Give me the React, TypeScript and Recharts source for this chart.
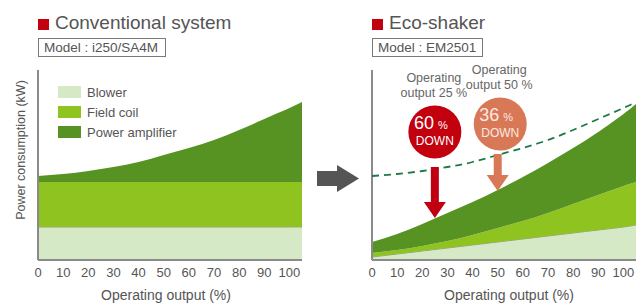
import React from "react";
import {
  AreaChart,
  ComposedChart,
  Area,
  Line,
  XAxis,
  YAxis,
  Legend,
  ReferenceLine,
  ReferenceDot,
} from "recharts";

// operating output (%) sample points, plot runs a little past 100
const outputs = [0, 10, 20, 30, 40, 50, 60, 70, 80, 90, 100, 105];
const xTicks = [0, 10, 20, 30, 40, 50, 60, 70, 80, 90, 100];

// conventional system (i250/SA4M), stacked amounts
const convBlower = [33, 33, 33, 33, 33, 33, 33, 33, 33, 33, 33, 33];
const convFieldCoil = [45, 45, 45, 45, 45, 45, 45, 45, 45, 45, 45, 45];
const convAmp = [6, 8, 11, 15, 20, 27, 34, 42, 52, 63, 74, 80];

// eco-shaker (EM2501), stacked amounts
const ecoBlower = [3, 6, 9, 12, 15, 18, 21, 24, 27, 30, 33, 35];
const ecoFieldCoil = [4, 4, 5, 7, 10, 14, 18, 23, 29, 35, 41, 43];
const ecoAmp = [11, 16, 22, 28, 33, 38, 44, 50, 56, 63, 72, 78];

// reduction callouts on the eco-shaker chart
const callouts = [
  { x: 25, from: 93, to: 42, circleX: 25, circleY: 128, pct: "60", caption: "output 25 %", color: "#c2000e", arrow: "#c00010", text: "#ffffff" },
  { x: 50, from: 106, to: 69, circleX: 51, circleY: 136, pct: "36", caption: "output 50 %", color: "#d97856", arrow: "#d97856", text: "#fbe9e1" },
];

const series = [
  { key: "blower", name: "Blower", fill: "#d6e9c6" },
  { key: "fieldCoil", name: "Field coil", fill: "#8fc31f" },
  { key: "amp", name: "Power amplifier", fill: "#569322" },
];

const convData = outputs.map((x, i) => ({
  x,
  blower: convBlower[i],
  fieldCoil: convFieldCoil[i],
  amp: convAmp[i],
}));

const ecoData = outputs.map((x, i) => ({
  x,
  blower: ecoBlower[i],
  fieldCoil: ecoFieldCoil[i],
  amp: ecoAmp[i],
  conv: convBlower[i] + convFieldCoil[i] + convAmp[i],
}));

const font = "'Liberation Sans', Arial, sans-serif";
const gray = "#555";
const axisGray = "#8a8a8a";

function LegendBox() {
  return (
    <div style={{ fontFamily: font, fontSize: 13, color: gray }}>
      {series.map((s) => (
        <div key={s.key} style={{ display: "flex", alignItems: "center", height: 20 }}>
          <span style={{ width: 23, height: 12, background: s.fill, marginRight: 6 }} />
          <span>{s.name}</span>
        </div>
      ))}
    </div>
  );
}

function ArrowHead(props: any) {
  const { cx, cy, fill } = props;
  return <polygon points={`${cx},${cy} ${cx - 11},${cy - 16} ${cx + 11},${cy - 16}`} fill={fill} />;
}

function Bubble(props: any) {
  const { cx, cy, c } = props;
  return (
    <g fontFamily={font}>
      <text x={cx - 1} y={cy - 50} textAnchor="middle" fontSize={12.5} fill="#666">Operating</text>
      <text x={cx - 1} y={cy - 35} textAnchor="middle" fontSize={12.5} fill="#666">{c.caption}</text>
      <circle cx={cx} cy={cy} r={26.5} fill={c.color} />
      <text x={cx - 4} y={cy - 3} textAnchor="middle" fontSize={18} fill={c.text}>
        {c.pct}
        <tspan fontSize={11} dx={4}>%</tspan>
      </text>
      <text x={cx} y={cy + 13} textAnchor="middle" fontSize={12} fill={c.text}>DOWN</text>
    </g>
  );
}

function YLabel() {
  return (
    <text
      x={22}
      y={150}
      transform="rotate(-90, 22, 150)"
      textAnchor="middle"
      dominantBaseline="middle"
      fontSize={12.5}
      fill={gray}
      fontFamily={font}
    >
      Power consumption (kW)
    </text>
  );
}

function Title({ left, text, model, boxWidth }: { left: number; text: string; model: string; boxWidth: number }) {
  return (
    <>
      <div style={{ position: "absolute", left, top: 19, width: 11, height: 11, background: "#c2000e" }} />
      <div style={{ position: "absolute", left: left + 17, top: 11, fontFamily: font, fontSize: 19, color: gray, lineHeight: "24px" }}>
        {text}
      </div>
      <div
        style={{
          position: "absolute",
          left,
          top: 38,
          width: boxWidth,
          height: 17,
          border: "1px solid #7a7a7a",
          fontFamily: font,
          fontSize: 13.5,
          color: gray,
          lineHeight: "18px",
          paddingLeft: 5,
          boxSizing: "content-box",
        }}
      >
        {model}
      </div>
    </>
  );
}

const xAxisProps = {
  dataKey: "x",
  type: "number" as const,
  domain: [0, 105],
  ticks: xTicks,
  allowDataOverflow: true,
  tickLine: false,
  height: 43,
  axisLine: false,
  tick: { fill: gray, fontSize: 13, fontFamily: font },
};

const yAxisProps = {
  domain: [0, 190],
  hide: true,
  allowDataOverflow: true,
};

// axis frame drawn over the areas, as in the original
function frame() {
  return [
    <ReferenceLine key="fx" segment={[{ x: 0, y: 0 }, { x: 0, y: 190 }]} stroke={axisGray} strokeWidth={2} />,
    <ReferenceLine key="fy" segment={[{ x: 0, y: 0 }, { x: 105, y: 0 }]} stroke={axisGray} strokeWidth={2} />,
  ];
}

export default function App() {
  return (
    <div style={{ position: "absolute", left: 0, top: 0, width: 636, height: 303, background: "#fff", overflow: "hidden" }}>
      <Title left={38} text="Conventional system" model="Model : i250/SA4M" boxWidth={121} />
      <Title left={372} text="Eco-shaker" model="Model : EM2501" boxWidth={104} />

      <div style={{ position: "absolute", left: 0, top: 0 }}>
        <AreaChart width={320} height={303} data={convData} margin={{ top: 70, right: 18, left: 38, bottom: 0 }}>
          <XAxis
            {...xAxisProps}
            label={{ value: "Operating output (%)", position: "insideBottom", offset: 3, dx: -4, fill: gray, fontSize: 14, fontFamily: font }}
          />
          <YAxis {...yAxisProps} />
          {series.map((s) => (
            <Area
              key={s.key}
              type="natural"
              dataKey={s.key}
              name={s.name}
              stackId="a"
              fill={s.fill}
              fillOpacity={1}
              stroke={s.key === "blower" ? "#9a9a9a" : "none"}
              strokeWidth={1}
              isAnimationActive={false}
            />
          ))}
          {frame()}
          <Legend
            layout="vertical"
            align="center"
            verticalAlign="middle"
            wrapperStyle={{ top: 82, left: 58, width: 160 }}
            content={() => <LegendBox />}
          />
        </AreaChart>
        <svg width={40} height={303} style={{ position: "absolute", left: 0, top: 0 }}>
          <YLabel />
        </svg>
      </div>

      <div style={{ position: "absolute", left: 320, top: 0 }}>
        <ComposedChart width={316} height={303} data={ecoData} margin={{ top: 70, right: 0, left: 52, bottom: 0 }}>
          <XAxis
            {...xAxisProps}
            label={{ value: "Operating output (%)", position: "insideBottom", offset: 3, dx: 5, fill: gray, fontSize: 14, fontFamily: font }}
          />
          <YAxis {...yAxisProps} />
          {series.map((s) => (
            <Area
              key={s.key}
              type="natural"
              dataKey={s.key}
              name={s.name}
              stackId="a"
              fill={s.fill}
              fillOpacity={1}
              stroke={s.key === "blower" ? "#9a9a9a" : "none"}
              strokeWidth={1}
              isAnimationActive={false}
            />
          ))}
          {frame()}
          <Line
            type="natural"
            dataKey="conv"
            stroke="#1d7a46"
            strokeWidth={1.8}
            strokeDasharray="7 5"
            dot={false}
            isAnimationActive={false}
          />
          {callouts.map((c) => (
            <ReferenceLine
              key={"shaft" + c.x}
              segment={[{ x: c.x, y: c.from }, { x: c.x, y: c.to + 15 }]}
              stroke={c.arrow}
              strokeWidth={8}
            />
          ))}
          {callouts.map((c) => (
            <ReferenceDot
              key={"head" + c.x}
              x={c.x}
              y={c.to}
              r={0}
              shape={(p: any) => <ArrowHead {...p} fill={c.arrow} />}
            />
          ))}
          {callouts.map((c) => (
            <ReferenceDot
              key={"bubble" + c.x}
              x={c.circleX}
              y={c.circleY}
              r={26}
              shape={(p: any) => <Bubble {...p} c={c} />}
            />
          ))}
        </ComposedChart>
      </div>

      <svg width={636} height={303} style={{ position: "absolute", left: 0, top: 0, pointerEvents: "none" }}>
        <polygon points="317,171 337,171 337,165 359,178.5 337,192 337,186 317,186" fill="#555" />
      </svg>
    </div>
  );
}
